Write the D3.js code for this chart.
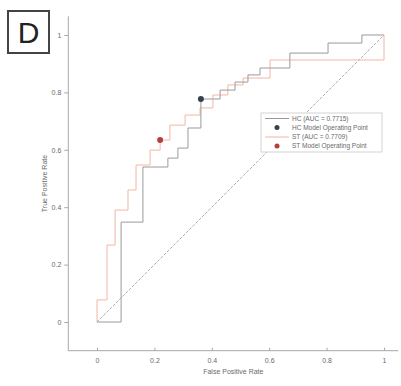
<!DOCTYPE html>
<html><head><meta charset="utf-8">
<script src="https://cdn.jsdelivr.net/npm/d3@7"></script>
<style>body{margin:0;background:#fff}svg{display:block;font-family:"Liberation Sans",Arial,sans-serif}</style>
</head><body>
<svg id="c" width="401" height="386"></svg>
<script>
const ticks = [0, 0.2, 0.4, 0.6, 0.8, 1];
const tickLabels = ["0", "0.2", "0.4", "0.6", "0.8", "1"];
const hcFPR = [0, .084, .084, .16, .16, .247, .247, .282, .282, .317, .317, .362, .362, .429, .429, .481, .481, .526, .526, .568, .568, .672, .672, .805, .805, .923, .923, 1];
const hcTPR = [0, 0, .348, .348, .54, .54, .571, .571, .606, .606, .676, .676, .777, .777, .808, .808, .836, .836, .861, .861, .885, .885, .937, .937, .972, .972, 1, 1];
const stFPR = [0, 0, .035, .035, .063, .063, .108, .108, .136, .136, .185, .185, .22, .22, .254, .254, .307, .307, .359, .359, .404, .404, .456, .456, .509, .509, .603, .603, 1, 1];
const stTPR = [0, .077, .077, .268, .268, .39, .39, .46, .46, .547, .547, .599, .599, .634, .634, .686, .686, .721, .721, .746, .746, .791, .791, .826, .826, .85, .85, .913, .913, 1];
const hcPoint = [0.362, 0.777];
const stPoint = [0.22, 0.634];
const legendLabels = ["HC (AUC = 0.7715)", "HC Model Operating Point", "ST (AUC = 0.7709)", "ST Model Operating Point"];
const hcColor = "#9a9a9a", stColor = "#f2b6a6", hcDot = "#34434b", stDot = "#b5403b";

const svg = d3.select("#c");
const x = d3.scaleLinear().domain([0, 1]).range([97, 384]);
const y = d3.scaleLinear().domain([0, 1]).range([322, 35]);

const axisColor = "#a8a8a8", textColor = "#6a6a6a";
svg.append("line").attr("x1", x(-0.1)).attr("x2", x(1.05)).attr("y1", y(-0.1)).attr("y2", y(-0.1)).attr("stroke", axisColor).attr("stroke-width", 1);
svg.append("line").attr("x1", x(-0.1)).attr("x2", x(-0.1)).attr("y1", y(-0.1)).attr("y2", y(1.065)).attr("stroke", axisColor).attr("stroke-width", 1);

const xa = d3.axisBottom(x).tickValues(ticks).tickFormat((d, i) => tickLabels[i]).tickSize(-3).tickPadding(7);
const gx = svg.append("g").attr("transform", `translate(0,${y(-0.1)})`).call(xa);
const ya = d3.axisLeft(y).tickValues(ticks).tickFormat((d, i) => tickLabels[i]).tickSize(4).tickPadding(3);
const gy = svg.append("g").attr("transform", `translate(${x(-0.1)},0)`).call(ya);
[gx, gy].forEach(g => {
  g.select(".domain").remove();
  g.selectAll(".tick line").attr("stroke", axisColor);
  g.selectAll(".tick text").attr("fill", textColor).attr("font-size", 7);
});

svg.append("text").attr("x", (x(-0.1) + x(1.05)) / 2).attr("y", 374).attr("text-anchor", "middle")
  .attr("font-size", 7).attr("fill", textColor).text("False Positive Rate");
svg.append("text").attr("transform", `translate(47,${(y(-0.1) + y(1.065)) / 2}) rotate(-90)`).attr("text-anchor", "middle")
  .attr("font-size", 7).attr("fill", textColor).text("True Positive Rate");

svg.append("line").attr("x1", x(0)).attr("y1", y(0)).attr("x2", x(1)).attr("y2", y(1))
  .attr("stroke", "#a6a6a6").attr("stroke-width", 0.9).attr("stroke-dasharray", "3,1.5");

const line = d3.line().x(d => x(d[0])).y(d => y(d[1]));
const hc = hcFPR.map((f, i) => [f, hcTPR[i]]);
const st = stFPR.map((f, i) => [f, stTPR[i]]);
svg.append("path").attr("d", line(st)).attr("fill", "none").attr("stroke", stColor).attr("stroke-width", 1);
svg.append("path").attr("d", line(hc)).attr("fill", "none").attr("stroke", hcColor).attr("stroke-width", 1);

svg.append("circle").attr("cx", x(hcPoint[0])).attr("cy", y(hcPoint[1])).attr("r", 3).attr("fill", hcDot);
svg.append("circle").attr("cx", x(stPoint[0])).attr("cy", y(stPoint[1])).attr("r", 3).attr("fill", stDot);

const lg = svg.append("g");
lg.append("rect").attr("x", 261).attr("y", 113).attr("width", 121).attr("height", 39)
  .attr("fill", "#fff").attr("stroke", "#c8c8c8").attr("stroke-width", 0.8);
const ly = [118.5, 127.5, 137, 146];
lg.append("line").attr("x1", 265).attr("x2", 289).attr("y1", ly[0]).attr("y2", ly[0]).attr("stroke", hcColor);
lg.append("circle").attr("cx", 277).attr("cy", ly[1]).attr("r", 2.5).attr("fill", hcDot);
lg.append("line").attr("x1", 265).attr("x2", 289).attr("y1", ly[2]).attr("y2", ly[2]).attr("stroke", stColor);
lg.append("circle").attr("cx", 277).attr("cy", ly[3]).attr("r", 2.5).attr("fill", stDot);
legendLabels.forEach((t, i) => {
  lg.append("text").attr("x", 292).attr("y", ly[i] + 2.3).attr("font-size", 6.5).attr("fill", textColor).text(t);
});

svg.append("rect").attr("x", 8).attr("y", 11).attr("width", 41).attr("height", 42)
  .attr("fill", "none").attr("stroke", "#444").attr("stroke-width", 2);
svg.append("text").attr("x", 28.5).attr("y", 43).attr("text-anchor", "middle").attr("font-size", 30).attr("fill", "#222").text("D");
</script>
</body></html>
